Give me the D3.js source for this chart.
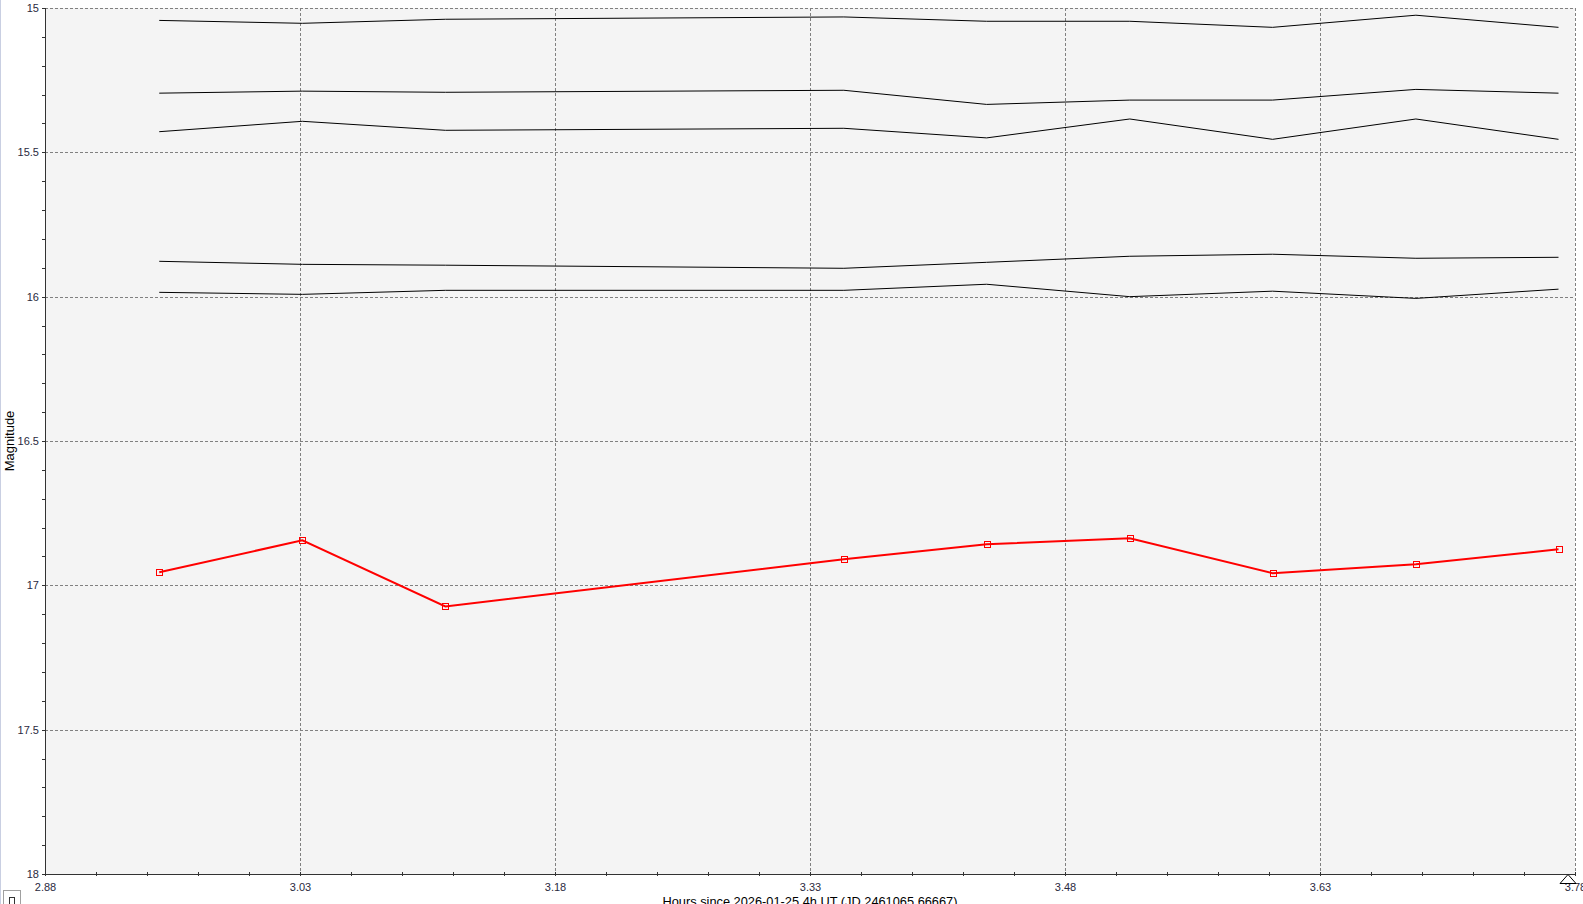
<!DOCTYPE html>
<html>
<head>
<meta charset="utf-8">
<script src="https://cdn.jsdelivr.net/npm/d3@7"></script>
<style>
  html, body { margin: 0; padding: 0; background: #ffffff; }
  svg { display: block; }
  text { font-family: "Liberation Sans", Arial, sans-serif; }
</style>
</head>
<body>
<svg id="chart" width="1583" height="904"></svg>
<script>
// ---- data ----
const hours = [2.9472, 3.0314, 3.1155, 3.3499, 3.4339, 3.5181, 3.6021, 3.6864, 3.7703];
const targetMag = [16.955, 16.844, 17.073, 16.910, 16.858, 16.837, 16.958, 16.927, 16.875];
const comp1 = [15.043, 15.053, 15.039, 15.031, 15.046, 15.046, 15.067, 15.025, 15.067];
const comp2 = [15.295, 15.288, 15.292, 15.285, 15.334, 15.319, 15.319, 15.282, 15.295];
const comp3 = [15.4285, 15.3925, 15.4237, 15.4167, 15.450, 15.3845, 15.455, 15.3845, 15.455];
const comp4 = [15.8775, 15.888, 15.891, 15.9017, 15.881, 15.860, 15.853, 15.867, 15.8636];
const comp5 = [15.985, 15.992, 15.978, 15.978, 15.957, 16.000, 15.981, 16.006, 15.974];
const xTickLabels = ["2.88", "3.03", "3.18", "3.33", "3.48", "3.63", "3.78"];
const yTickLabels = ["15", "15.5", "16", "16.5", "17", "17.5", "18"];
const xMinorStep = 0.03;
const yMinorStep = 0.1;
const xTitle = "Hours since 2026-01-25 4h UT (JD 2461065.66667)";
const yTitle = "Magnitude";

// ---- layout ----
const svg = d3.select("#chart");
const L = 45, R = 1575, T = 8, B = 874;
const xMajor = xTickLabels.map(Number);
const yMajor = yTickLabels.map(Number);
const x = d3.scaleLinear().domain([xMajor[0], xMajor[xMajor.length - 1]]).range([L, R]);
const y = d3.scaleLinear().domain([yMajor[0], yMajor[yMajor.length - 1]]).range([T, B]);

// left page edge
svg.append("rect").attr("x", 0).attr("y", 0).attr("width", 1).attr("height", 904).attr("fill", "#c9cfe2");

// plot background
svg.append("rect").attr("x", L).attr("y", T).attr("width", R - L).attr("height", B - T).attr("fill", "#f4f4f4");

// gridlines
const grid = svg.append("g").attr("stroke", "#808080").attr("stroke-width", 1)
  .attr("stroke-dasharray", "3,2").attr("shape-rendering", "crispEdges");
grid.selectAll(".vg").data(xMajor.slice(1)).join("line")
  .attr("x1", d => Math.round(x(d)) + 0.5).attr("x2", d => Math.round(x(d)) + 0.5)
  .attr("y1", T).attr("y2", B);
grid.selectAll(".hg").data(yMajor.slice(0, -1)).join("line")
  .attr("x1", L).attr("x2", R)
  .attr("y1", d => Math.round(y(d)) + 0.5).attr("y2", d => Math.round(y(d)) + 0.5);

// minor tick values
const xMinor = d3.range(Math.round((xMajor[xMajor.length - 1] - xMajor[0]) / xMinorStep) + 1)
  .map(i => xMajor[0] + i * xMinorStep);
const yMinor = d3.range(Math.round((yMajor[yMajor.length - 1] - yMajor[0]) / yMinorStep) + 1)
  .map(i => yMajor[0] + i * yMinorStep);

// x axis
const gxMinor = svg.append("g").attr("transform", `translate(0,${B})`)
  .call(d3.axisBottom(x).tickValues(xMinor).tickSize(2).tickFormat(""));
gxMinor.selectAll(".tick line").attr("y1", -2).attr("y2", 2);
gxMinor.select(".domain").remove();
const gx = svg.append("g").attr("transform", `translate(0,${B})`)
  .call(d3.axisBottom(x).tickValues(xMajor).tickSize(2).tickPadding(7).tickFormat((d, i) => xTickLabels[i]));
gx.select(".domain").remove();
gx.selectAll(".tick line").attr("y1", -2).attr("y2", 2);
svg.selectAll(".tick line").attr("stroke", "#333").attr("shape-rendering", "crispEdges");
gx.selectAll("text").attr("font-size", 11).attr("fill", "#2a2a40");
svg.append("line").attr("x1", L).attr("x2", R).attr("y1", B + 0.5).attr("y2", B + 0.5)
  .attr("stroke", "#333").attr("shape-rendering", "crispEdges");

// y axis
const gyMinor = svg.append("g").attr("transform", `translate(${L},0)`)
  .call(d3.axisLeft(y).tickValues(yMinor).tickSize(3).tickFormat(""));
gyMinor.select(".domain").remove();
const gy = svg.append("g").attr("transform", `translate(${L},0)`)
  .call(d3.axisLeft(y).tickValues(yMajor).tickSize(3).tickPadding(3).tickFormat((d, i) => yTickLabels[i]));
gy.select(".domain").remove();
svg.selectAll(".tick line").attr("stroke", "#333").attr("shape-rendering", "crispEdges");
gy.selectAll("text").attr("font-size", 11).attr("fill", "#2a2a40");
svg.append("line").attr("x1", L + 0.5).attr("x2", L + 0.5).attr("y1", T).attr("y2", B + 2)
  .attr("stroke", "#333").attr("shape-rendering", "crispEdges");

// comparison star lines
const lineGen = d3.line().x((d, i) => x(hours[i])).y(d => y(d));
[comp1, comp2, comp3, comp4, comp5].forEach(s => {
  svg.append("path").datum(s).attr("d", lineGen)
    .attr("fill", "none").attr("stroke", "#000").attr("stroke-width", 1);
});

// target star
svg.append("path").datum(targetMag).attr("d", lineGen)
  .attr("fill", "none").attr("stroke", "#ff0000").attr("stroke-width", 2);
svg.selectAll(".mk").data(targetMag).join("rect")
  .attr("x", (d, i) => Math.round(x(hours[i])) - 3 + 0.5)
  .attr("y", d => Math.round(y(d)) - 3 + 0.5)
  .attr("width", 6).attr("height", 6)
  .attr("fill", "none").attr("stroke", "#ff0000").attr("stroke-width", 1);

// axis titles
svg.append("text").attr("x", (L + R) / 2).attr("y", 906).attr("text-anchor", "middle")
  .attr("font-size", 12.8).attr("fill", "#000").text(xTitle);
svg.append("text").attr("transform", `translate(14,${(T + B) / 2}) rotate(-90)`)
  .attr("text-anchor", "middle").attr("font-size", 13).attr("fill", "#000").text(yTitle);

// small widgets
svg.append("rect").attr("x", 3.5).attr("y", 890.5).attr("width", 17).attr("height", 20)
  .attr("fill", "#fff").attr("stroke", "#a0a0a0");
svg.append("rect").attr("x", 9.5).attr("y", 897.5).attr("width", 5).attr("height", 10)
  .attr("fill", "none").attr("stroke", "#333");
svg.append("path").attr("d", `M${x(3.78) - 15},${B + 9.5} L${x(3.78) - 7},${B + 0.5} L${x(3.78) + 1},${B + 9.5} Z`)
  .attr("fill", "#fff").attr("stroke", "#000").attr("stroke-width", 1);
</script>
</body>
</html>
